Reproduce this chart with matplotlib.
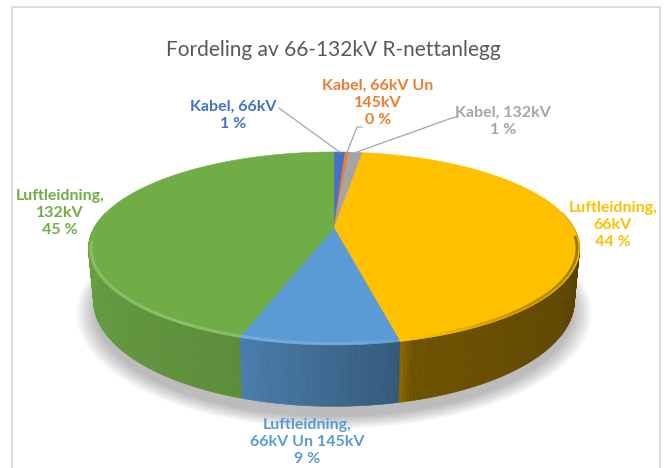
import numpy as np
import matplotlib
matplotlib.use("Agg")
import matplotlib.pyplot as plt
from matplotlib.patches import Polygon, Rectangle
from matplotlib.collections import PolyCollection, LineCollection

# data
categories = ["Kabel, 66kV", "Kabel, 66kV Un 145kV", "Kabel, 132kV",
              "Luftleidning, 66kV", "Luftleidning, 66kV Un 145kV", "Luftleidning, 132kV"]
label_text = ["Kabel, 66kV", "Kabel, 66kV Un\n145kV", "Kabel, 132kV",
              "Luftleidning,\n66kV", "Luftleidning,\n66kV Un 145kV", "Luftleidning,\n132kV"]
shares = [0.9, 0.3, 1.1, 44.2, 8.6, 44.9]
colors = ["#4472C4", "#ED7D31", "#A5A5A5", "#FFC000", "#5B9BD5", "#70AD47"]
title = "Fordeling av 66-132kV R-nettanlegg"

plt.rcParams["font.family"] = ["Lato", "DejaVu Sans"]

# simple perspective camera for a tilted disc (pixel space)
CX, CY = 334, 228
F, D = 1044.0, 4.35
SE, CE = 0.384, 0.923
H = 0.235


def proj(theta, r=1.0, h=0.0):
    t = np.radians(theta)
    u = r * np.sin(t)
    w = r * np.cos(t)
    Y = w * SE + h * CE
    Z = D + w * CE - h * SE
    return CX + F * u / Z, CY - F * Y / Z


def shade(theta):
    return np.interp(theta, [95, 165, 168, 200, 265], [0.33, 0.43, 0.58, 0.82, 0.92])


def rim_k(theta):
    return np.interp(theta, [95, 140, 175, 210, 265], [-0.45, -0.25, 0.12, 0.22, 0.18])


def mix(c, k):
    c = np.array(matplotlib.colors.to_rgb(c))
    if k >= 0:
        return tuple(c + (1 - c) * k)
    return tuple(c * (1 + k))


fig = plt.figure(figsize=(6.66, 4.68), dpi=100)
ax = fig.add_axes([0, 0, 1, 1])
ax.set_xlim(0, 666)
ax.set_ylim(468, 0)
ax.axis("off")

ax.add_patch(Rectangle((12, 7), 648, 470, fill=False, edgecolor="#d9d9d9", lw=1.3))

total = sum(shares)
bounds = np.concatenate([[0], np.cumsum(shares) / total * 360])

# soft shadow under the disc
full = np.linspace(0, 360, 181)
for r in np.linspace(1.0, 1.07, 8):
    xs, ys = proj(full, r, -H - 0.03)
    ax.add_patch(Polygon(np.column_stack([xs, ys + 3]), closed=True,
                         facecolor="#000000", alpha=0.035, lw=0))

# outer walls (front half)
quads, qcols = [], []
for i in range(len(shares)):
    a0, a1 = max(bounds[i], 80), min(bounds[i + 1], 280)
    if a1 <= a0:
        continue
    n = max(int((a1 - a0) / 0.7), 1)
    ts = np.linspace(a0, a1, n + 1)
    for t0, t1 in zip(ts[:-1], ts[1:]):
        x0, y0 = proj(t0)
        x1, y1 = proj(t1)
        x2, y2 = proj(t1, 1, -H)
        x3, y3 = proj(t0, 1, -H)
        quads.append([(x0, y0), (x1, y1), (x2, y2), (x3, y3)])
        qcols.append(mix(colors[i], shade((t0 + t1) / 2) - 1))
ax.add_collection(PolyCollection(quads, facecolors=qcols, edgecolors=qcols, linewidths=0.4))

# top faces
for i in range(len(shares)):
    ts = np.linspace(bounds[i], bounds[i + 1], max(int(shares[i] * 4), 3))
    xs, ys = proj(ts)
    cx, cy = proj(0, 0)
    pts = np.column_stack([np.r_[cx, xs], np.r_[cy, ys]])
    ax.add_patch(Polygon(pts, closed=True, facecolor=colors[i], edgecolor=colors[i], lw=0.4))

# bevel rim along the front edge
segs, scols = [], []
for i in range(len(shares)):
    a0, a1 = max(bounds[i], 95), min(bounds[i + 1], 262)
    if a1 <= a0:
        continue
    ts = np.linspace(a0, a1, max(int(a1 - a0), 2))
    for t0, t1 in zip(ts[:-1], ts[1:]):
        segs.append([proj(t0, 0.99), proj(t1, 0.99)])
        scols.append(mix(colors[i], rim_k((t0 + t1) / 2)))
ax.add_collection(LineCollection(segs, colors=scols, linewidths=2.0, capstyle="butt"))

# title
ax.text(333, 50, title, ha="center", va="center", fontsize=15, color="#595959")

# labels
label_pos = [(233, 115), (378, 103), (503, 121), (613, 225), (307, 442), (60, 213)]
pct = [s / total * 100 for s in shares]
for i in range(len(shares)):
    ax.text(label_pos[i][0], label_pos[i][1], f"{label_text[i]}\n{pct[i]:.0f} %",
            ha="center", va="center", fontsize=11.5, fontweight="bold",
            color=colors[i], linespacing=1.3)

# leader lines to the small slices
mid = (bounds[:-1] + bounds[1:]) / 2
starts = [[(279, 108)], [(362, 127), (357, 127)], [(458, 117), (452, 118)]]
for i in range(3):
    ax_, ay_ = proj(mid[i])
    pts = starts[i] + [(ax_, ay_)]
    ax.plot([p[0] for p in pts], [p[1] for p in pts], color="#a6a6a6", lw=0.9)

fig.savefig("out.png", dpi=100)
